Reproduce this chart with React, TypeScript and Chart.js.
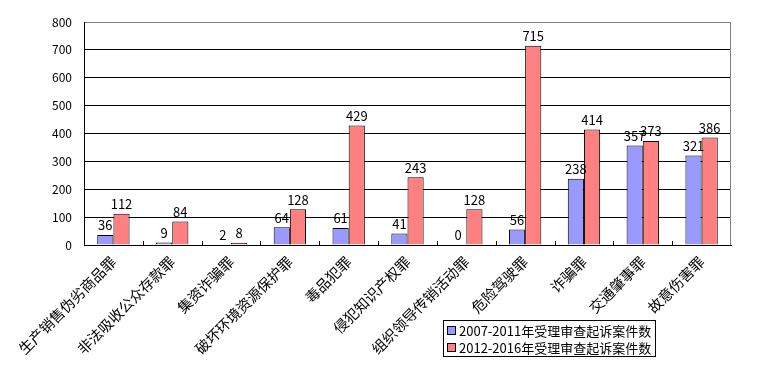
import React, { useEffect, useRef } from "react";
import { Chart, registerables } from "chart.js";

Chart.register(...registerables);

const categories = [
  "生产销售伪劣商品罪",
  "非法吸收公众存款罪",
  "集资诈骗罪",
  "破坏环境资源保护罪",
  "毒品犯罪",
  "侵犯知识产权罪",
  "组织领导传销活动罪",
  "危险驾驶罪",
  "诈骗罪",
  "交通肇事罪",
  "故意伤害罪",
];
const series2007 = [36, 9, 2, 64, 61, 41, 0, 56, 238, 357, 321];
const series2012 = [112, 84, 8, 128, 429, 243, 128, 715, 414, 373, 386];
const seriesNames = ["2007-2011年受理审查起诉案件数", "2012-2016年受理审查起诉案件数"];
const yTicks = [0, 100, 200, 300, 400, 500, 600, 700, 800];

const FONT = "'Noto Sans CJK SC', 'DejaVu Sans', sans-serif";
const BLUE = "#9999FF";
const RED = "#FF8080";

const extrasPlugin = {
  id: "extras",
  afterDatasetsDraw(chart: any) {
    const ctx = chart.ctx;
    const xs = chart.scales.x;
    const area = chart.chartArea;
    ctx.save();
    // inside tick marks at category boundaries
    ctx.strokeStyle = "#000";
    ctx.lineWidth = 1;
    for (let i = 1; i < categories.length; i++) {
      const x = Math.round((xs.getPixelForValue(i - 1) + xs.getPixelForValue(i)) / 2) + 0.5;
      ctx.beginPath();
      ctx.moveTo(x, area.bottom);
      ctx.lineTo(x, area.bottom - 4);
      ctx.stroke();
    }
    // value labels
    ctx.fillStyle = "#000";
    ctx.font = `13px ${FONT}`;
    ctx.textAlign = "center";
    ctx.textBaseline = "bottom";
    chart.data.datasets.forEach((ds: any, di: number) => {
      const meta = chart.getDatasetMeta(di);
      meta.data.forEach((bar: any, i: number) => {
        ctx.fillText(String(ds.data[i]), bar.x, bar.y - 3);
      });
    });
    // legend
    const lx = 443.5, ly = 320.5, lw = 212, lh = 36;
    ctx.fillStyle = "#fff";
    ctx.fillRect(lx, ly, lw, lh);
    ctx.strokeStyle = "#000";
    ctx.strokeRect(lx, ly, lw, lh);
    const colors = [BLUE, RED];
    ctx.textAlign = "left";
    ctx.textBaseline = "middle";
    seriesNames.forEach((name, i) => {
      const cy = 331 + i * 17;
      ctx.fillStyle = colors[i];
      ctx.fillRect(447.5, cy - 4.5, 8, 8);
      ctx.strokeStyle = "#000";
      ctx.strokeRect(447.5, cy - 4.5, 8, 8);
      ctx.fillStyle = "#000";
      ctx.fillText(name, 459, cy + 0.5);
    });
    ctx.restore();
  },
};

export default function App() {
  const ref = useRef<HTMLCanvasElement | null>(null);
  useEffect(() => {
    if (!ref.current) return;
    const chart = new Chart(ref.current, {
      type: "bar",
      data: {
        labels: categories,
        datasets: [
          {
            label: seriesNames[0],
            data: series2007,
            backgroundColor: BLUE,
            borderColor: "#000",
            borderWidth: 1,
            barPercentage: 1,
            categoryPercentage: 0.55,
          },
          {
            label: seriesNames[1],
            data: series2012,
            backgroundColor: RED,
            borderColor: "#000",
            borderWidth: 1,
            barPercentage: 1,
            categoryPercentage: 0.55,
          },
        ],
      },
      options: {
        animation: false,
        responsive: false,
        devicePixelRatio: 1,
        layout: { padding: { top: 22, right: 53, left: 0, bottom: 0 } },
        plugins: {
          legend: { display: false },
          tooltip: { enabled: false },
        },
        scales: {
          x: {
            grid: { display: false },
            border: { display: true, color: "#000", width: 1 },
            ticks: {
              minRotation: 45,
              maxRotation: 45,
              autoSkip: false,
              color: "#000",
              font: { family: FONT, size: 14.5 },
              padding: 0,
            },
            afterFit(scale: any) {
              scale.height = 120;
            },
          },
          y: {
            min: 0,
            max: 800,
            afterBuildTicks(scale: any) {
              scale.ticks = yTicks.map((v) => ({ value: v }));
            },
            grid: {
              color: (c: any) => (c.tick && c.tick.value === 800 ? "#808080" : "#000"),
              drawTicks: false,
              lineWidth: 1,
            },
            border: { display: true, color: "#000", width: 1 },
            ticks: {
              color: "#000",
              font: { family: FONT, size: 12 },
              padding: 12,
            },
            afterFit(scale: any) {
              scale.width = 84;
            },
          },
        },
      },
      plugins: [
        extrasPlugin,
        {
          id: "rightBorder",
          afterDraw(chart: any) {
            const ctx = chart.ctx;
            const a = chart.chartArea;
            ctx.save();
            ctx.strokeStyle = "#808080";
            ctx.lineWidth = 1;
            ctx.beginPath();
            ctx.moveTo(Math.round(a.right) - 0.5, a.top);
            ctx.lineTo(Math.round(a.right) - 0.5, a.bottom);
            ctx.stroke();
            ctx.restore();
          },
        },
      ],
    });
    return () => chart.destroy();
  }, []);
  return (
    <div style={{ position: "fixed", left: 0, top: 0, width: 784, height: 365, background: "#fff" }}>
      <canvas ref={ref} width={784} height={365} style={{ width: 784, height: 365 }} />
    </div>
  );
}
